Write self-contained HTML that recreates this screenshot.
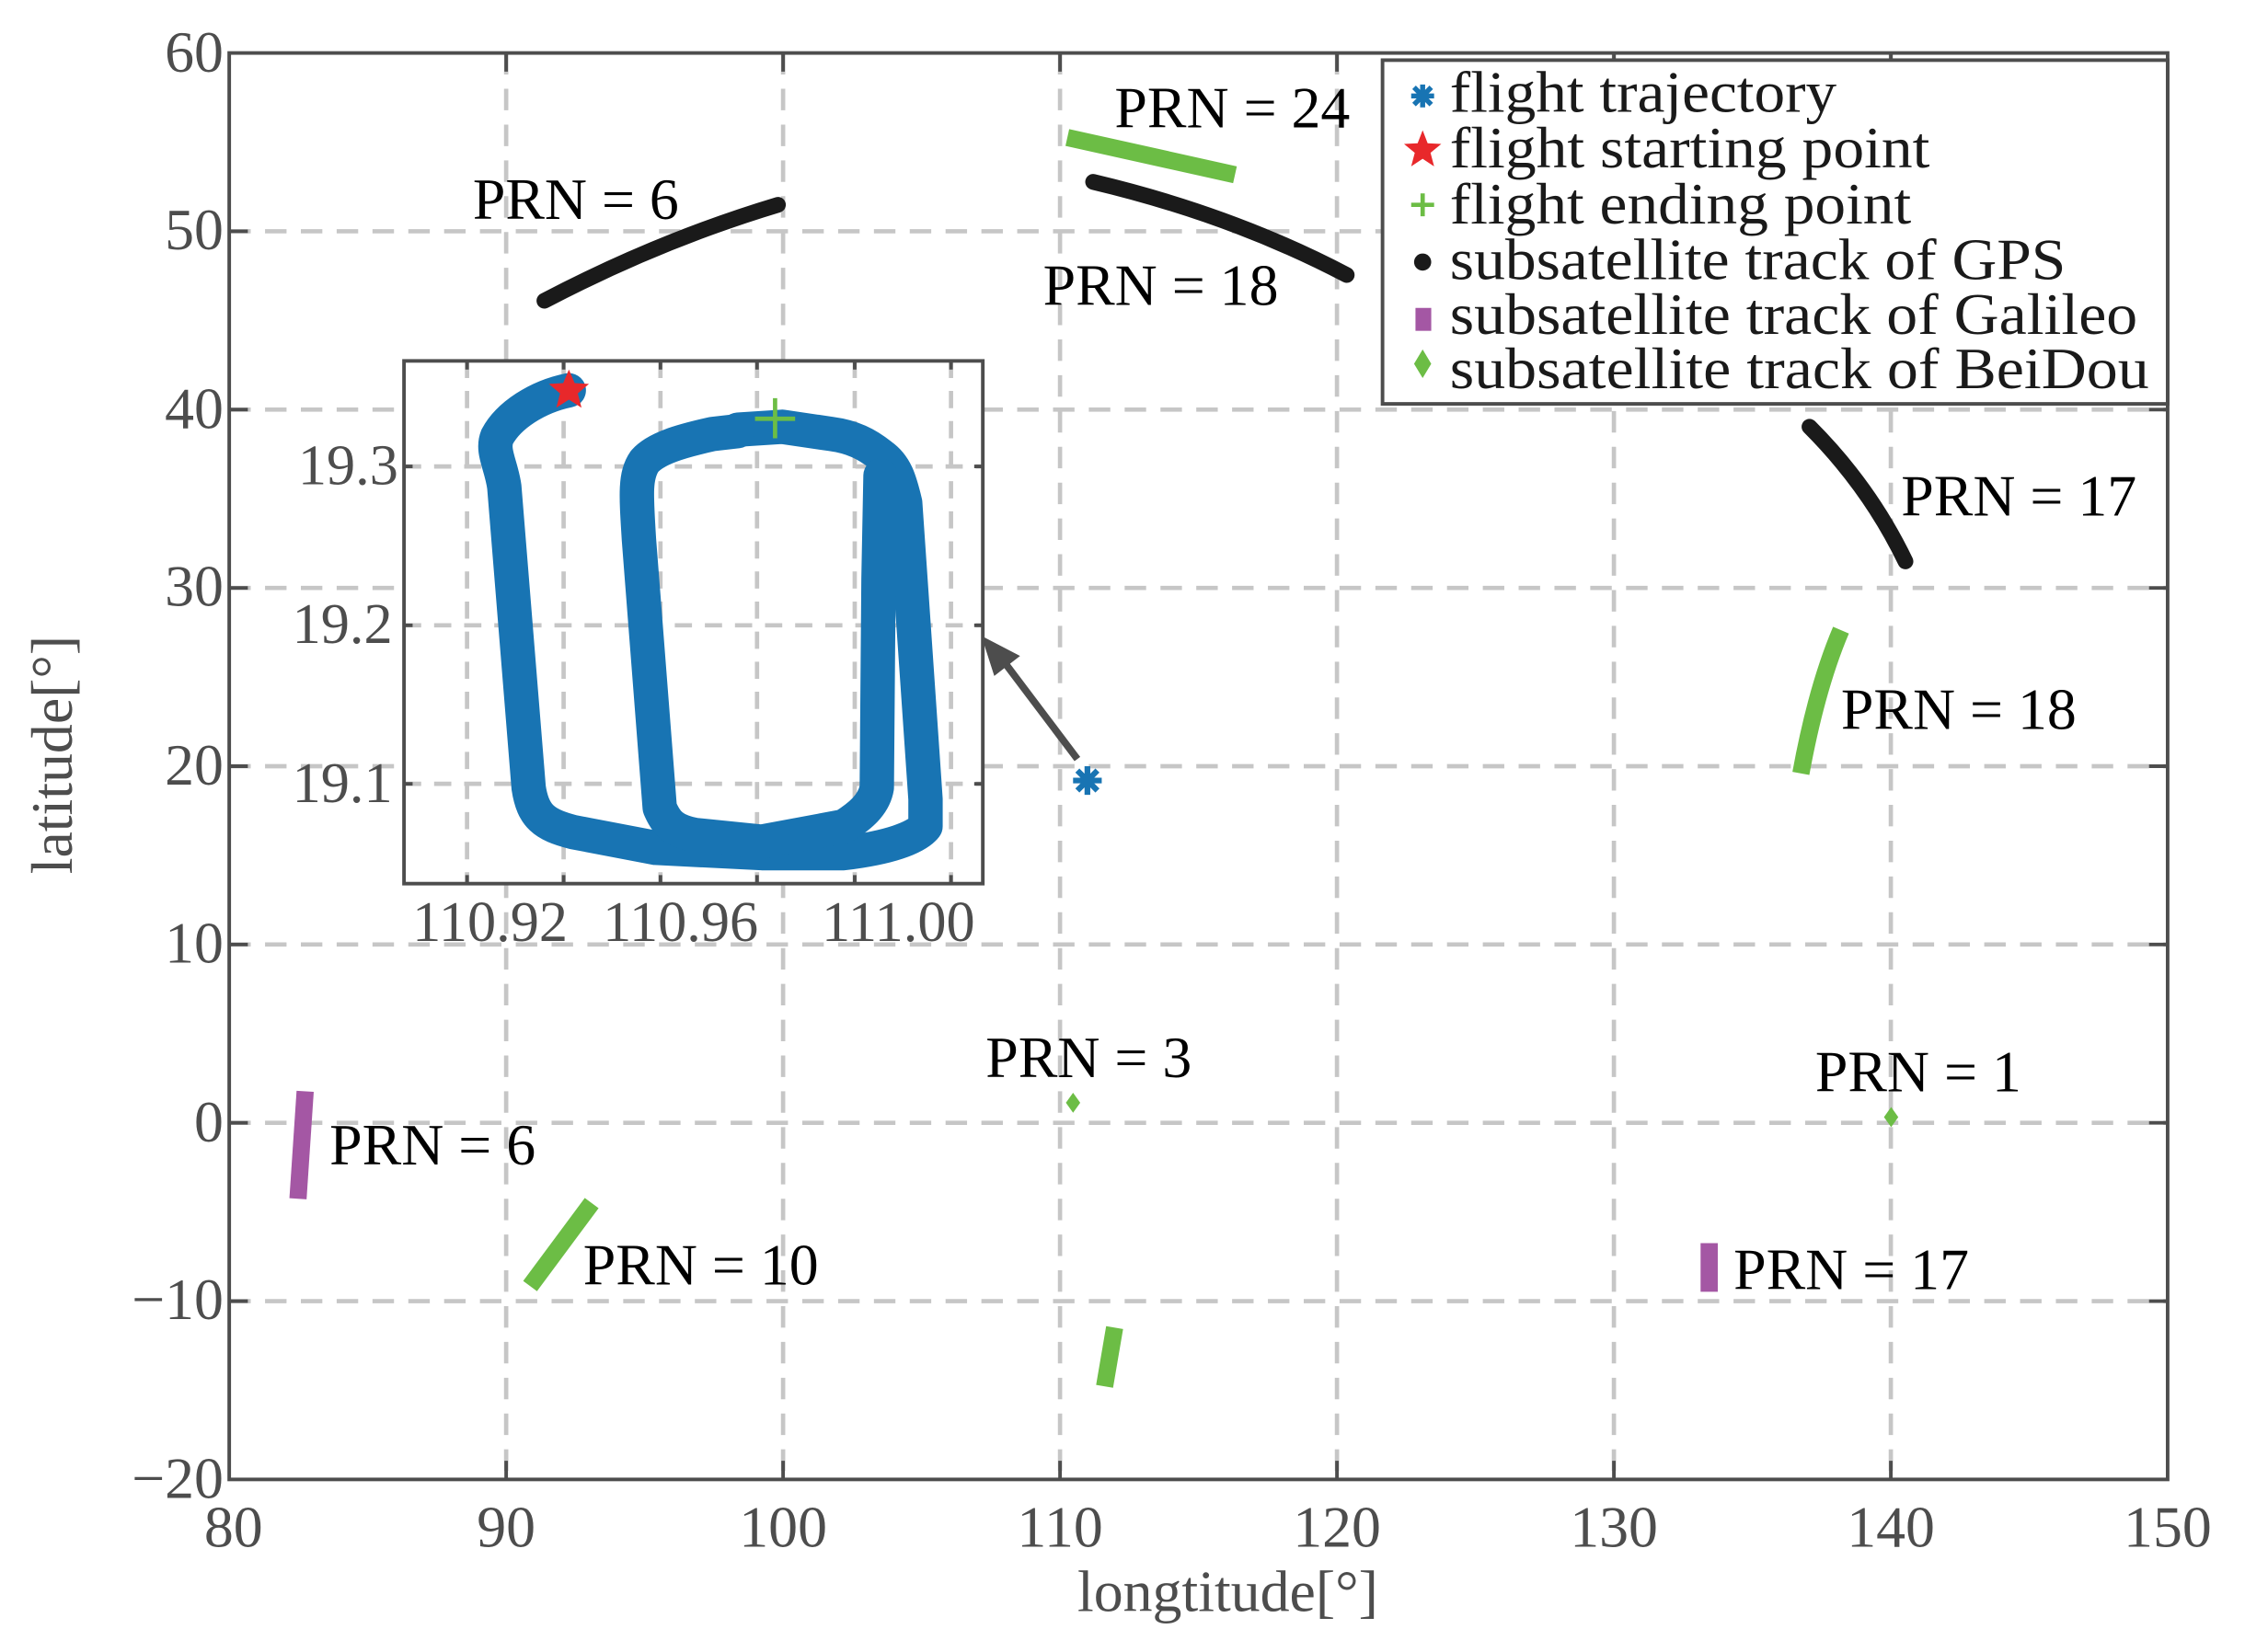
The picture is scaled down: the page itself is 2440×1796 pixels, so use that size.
<!DOCTYPE html>
<html><head><meta charset="utf-8"><style>html,body{margin:0;padding:0;background:#fff}svg{display:block}</style></head>
<body>
<svg width="2440" height="1796" viewBox="0 0 1567 1153.5" preserveAspectRatio="none" xmlns="http://www.w3.org/2000/svg" font-family="Liberation Serif, serif">
<rect width="1567" height="1154" fill="#fff"/>
<g stroke="#c6c6c6" stroke-width="3" stroke-dasharray="15 10">
<line x1="353.3" y1="37" x2="353.3" y2="1033"/><line x1="546.6" y1="37" x2="546.6" y2="1033"/><line x1="739.9" y1="37" x2="739.9" y2="1033"/><line x1="933.2" y1="37" x2="933.2" y2="1033"/><line x1="1126.5" y1="37" x2="1126.5" y2="1033"/><line x1="1319.8" y1="37" x2="1319.8" y2="1033"/>
<line x1="160" y1="161.5" x2="1513" y2="161.5"/><line x1="160" y1="286" x2="1513" y2="286"/><line x1="160" y1="410.5" x2="1513" y2="410.5"/><line x1="160" y1="535" x2="1513" y2="535"/><line x1="160" y1="659.5" x2="1513" y2="659.5"/><line x1="160" y1="784" x2="1513" y2="784"/><line x1="160" y1="908.5" x2="1513" y2="908.5"/>
</g>
<rect x="160" y="37" width="1353" height="996" fill="none" stroke="#4d4d4d" stroke-width="2.5"/>
<g stroke="#4d4d4d" stroke-width="2.5">
<path d="M353.3 1033v-13M546.6 1033v-13M739.9 1033v-13M933.2 1033v-13M1126.5 1033v-13M1319.8 1033v-13M353.3 37v13M546.6 37v13M739.9 37v13M933.2 37v13M1126.5 37v13M1319.8 37v13"/>
<path d="M160 161.5h13M160 286h13M160 410.5h13M160 535h13M160 659.5h13M160 784h13M160 908.5h13M1513 161.5h-13M1513 286h-13M1513 410.5h-13M1513 535h-13M1513 659.5h-13M1513 784h-13M1513 908.5h-13"/>
</g>
<g fill="#4d4d4d" font-size="41" text-anchor="end">
<text x="156" y="50">60</text><text x="156" y="174">50</text><text x="156" y="299">40</text><text x="156" y="423">30</text><text x="156" y="548">20</text><text x="156" y="672">10</text><text x="156" y="797">0</text><text x="156" y="921">−10</text><text x="156" y="1046">−20</text>
</g>
<g fill="#4d4d4d" font-size="41" text-anchor="middle">
<text x="163" y="1080">80</text><text x="353.3" y="1080">90</text><text x="546.6" y="1080">100</text><text x="739.9" y="1080">110</text><text x="933.2" y="1080">120</text><text x="1126.5" y="1080">130</text><text x="1319.8" y="1080">140</text><text x="1513" y="1080">150</text>
<text x="857" y="1125">longtitude[°]</text>
<text transform="translate(50,527) rotate(-90)">latitude[°]</text>
</g>
<g fill="none" stroke="#1a1a1a" stroke-width="11" stroke-linecap="round">
<path d="M380 210 Q460 168 543 143"/><path d="M763 127 Q860 150 940 192"/><path d="M1263 298 Q1305 340 1330 392"/>
</g>
<g fill="none" stroke="#6cbd45" stroke-width="12" stroke-linecap="butt">
<path d="M745 96 L862 122"/><path d="M1257 540 Q1268 480 1285 440"/><path d="M370 898 L413 840"/><path d="M771 968 L778 927"/>
</g>
<path d="M749 763l5 7l-5 7l-5-7z" fill="#6cbd45"/><path d="M1320 773l5 7l-5 7l-5-7z" fill="#6cbd45"/>
<g fill="none" stroke="#a457a4" stroke-width="12"><path d="M208 837L213 762"/><path d="M1193 902V868"/></g>
<g stroke="#1874b3" stroke-width="4"><path d="M749 545h20M759 535v20M752 538l14 14M766 538l-14 14"/></g>
<g fill="#000" font-size="41">
<text x="330" y="153">PRN = 6</text><text x="778" y="89">PRN = 24</text><text x="728" y="213">PRN = 18</text><text x="1327" y="360">PRN = 17</text><text x="1285" y="509">PRN = 18</text><text x="688" y="752">PRN = 3</text><text x="1267" y="762">PRN = 1</text><text x="230" y="813">PRN = 6</text><text x="407" y="897">PRN = 10</text><text x="1210" y="900">PRN = 17</text>
</g>
<line x1="752" y1="530" x2="700" y2="461" stroke="#4d4d4d" stroke-width="5"/>
<path d="M685 444 L712 458 L694 472 Z" fill="#4d4d4d"/>
<rect x="282" y="252" width="404" height="365" fill="#fff"/>
<g stroke="#c6c6c6" stroke-width="3" stroke-dasharray="12 9">
<line x1="326" y1="252" x2="326" y2="617"/><line x1="393.4" y1="252" x2="393.4" y2="617"/><line x1="461" y1="252" x2="461" y2="617"/><line x1="528.4" y1="252" x2="528.4" y2="617"/><line x1="596.6" y1="252" x2="596.6" y2="617"/><line x1="663.8" y1="252" x2="663.8" y2="617"/>
<line x1="282" y1="325.7" x2="686" y2="325.7"/><line x1="282" y1="436.6" x2="686" y2="436.6"/><line x1="282" y1="547.3" x2="686" y2="547.3"/>
</g>
<g fill="none" stroke="#1874b3" stroke-width="24" stroke-linejoin="round" stroke-linecap="round">
<path d="M397 272.5 C375 277 355 290 347 305 C343 315 350 325 352 340 L369 550 C372 570 380 576 400 581 L457.6 592 L531.8 595.7 L589 595.7 C620 592 640 585 646 577 L646 558 L631.8 351 C628 335 625 325 615 318 C605 310 595 305 580 303 L546 298 L515 300"/>
<path d="M515 301 L497.6 303 C475 308 458 313 450 322 C443 332 444 345 446 377 L460.5 564 C465 575 470 580 485 583 L531.8 587.7 L589 577 C600 570 610 562 612 550 L613.2 404 L614.6 332"/>
</g>
<path d="M397.1 258l4 9.5 10 .6-7.8 6.6 2.6 10-8.8-5.6-8.8 5.6 2.6-10-7.8-6.6 10-.6z" fill="#e8282b"/>
<path d="M527 292.4h28M541 278v28" stroke="#6cbd45" stroke-width="3"/>
<rect x="282" y="252" width="404" height="365" fill="none" stroke="#4d4d4d" stroke-width="2.5"/>
<g stroke="#4d4d4d" stroke-width="2.5"><path d="M326 617v-6M393.4 617v-6M461 617v-6M528.4 617v-6M596.6 617v-6M663.8 617v-6M326 252v6M393.4 252v6M461 252v6M528.4 252v6M596.6 252v6M663.8 252v6M282 325.7h6M282 436.6h6M282 547.3h6M686 325.7h-6M686 436.6h-6M686 547.3h-6"/></g>
<g fill="#4d4d4d" font-size="40">
<text x="342" y="657" text-anchor="middle">110.92</text><text x="475" y="657" text-anchor="middle">110.96</text><text x="627" y="657" text-anchor="middle">111.00</text>
<text x="278" y="338" text-anchor="end">19.3</text><text x="274" y="449" text-anchor="end">19.2</text><text x="274" y="560" text-anchor="end">19.1</text>
</g>
<rect x="965" y="42" width="548" height="240" fill="#fff" stroke="#4d4d4d" stroke-width="2.5"/>
<g stroke="#1874b3" stroke-width="3.5"><path d="M985 67h16M993 59v16M987 61l12 12M999 61l-12 12"/></g>
<path d="M993 91l3.5 9 9.5.5-7.5 6.2 2.5 9.5-8-5.3-8 5.3 2.5-9.5-7.5-6.2 9.5-.5z" fill="#e8282b"/>
<path d="M985 143h16M993 135v16" stroke="#6cbd45" stroke-width="3"/>
<circle cx="993" cy="183" r="6" fill="#1a1a1a"/>
<rect x="988" y="215" width="11" height="16" fill="#a457a4"/>
<path d="M993 244l6 10l-6 10l-6-10z" fill="#6cbd45"/>
<g fill="#1a1a1a" font-size="41">
<text x="1012" y="78" textLength="270" lengthAdjust="spacingAndGlyphs">flight trajectory</text>
<text x="1012" y="117" textLength="335" lengthAdjust="spacingAndGlyphs">flight starting point</text>
<text x="1012" y="156" textLength="322" lengthAdjust="spacingAndGlyphs">flight ending point</text>
<text x="1012" y="195" textLength="430" lengthAdjust="spacingAndGlyphs">subsatellite track of GPS</text>
<text x="1012" y="233" textLength="480" lengthAdjust="spacingAndGlyphs">subsatellite track of Galileo</text>
<text x="1012" y="271" textLength="488" lengthAdjust="spacingAndGlyphs">subsatellite track of BeiDou</text>
</g>
</svg>
</body></html>
